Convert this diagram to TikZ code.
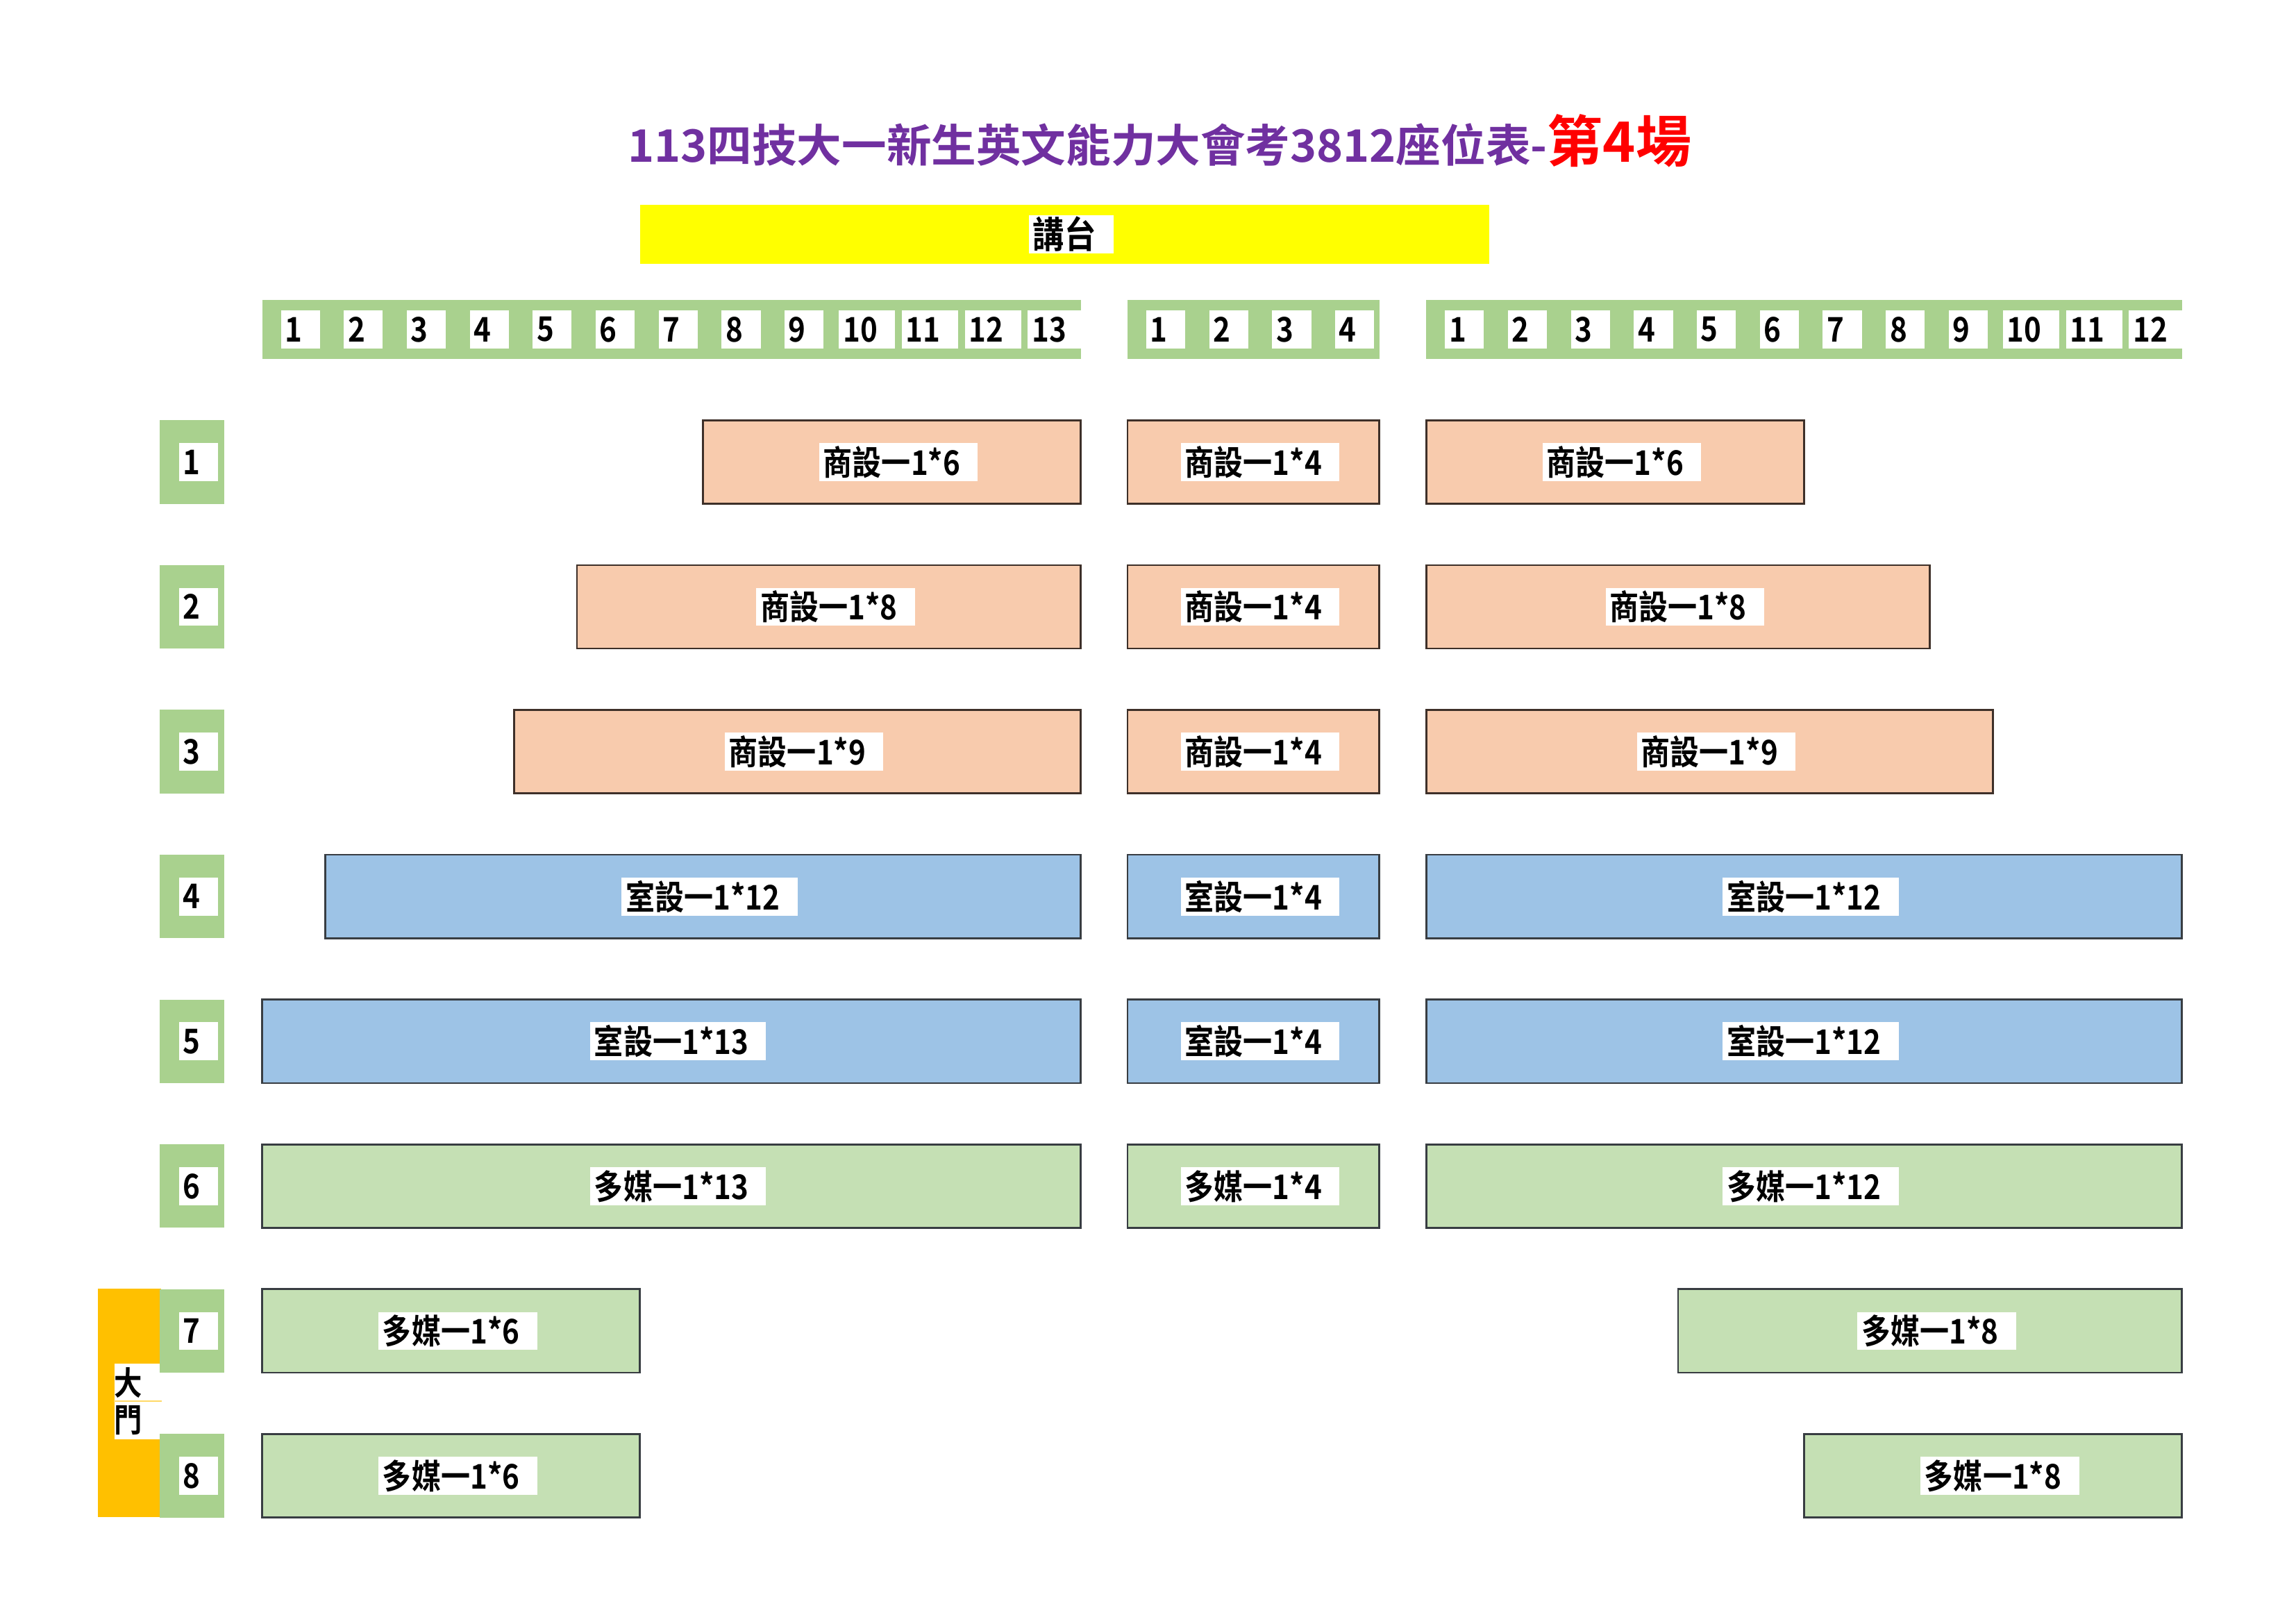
\documentclass[tikz,border=0pt]{standalone}
\usepackage{fontspec}
\setmainfont{Noto Sans CJK TC}[BoldFont=* Bold]
\newfontfamily\tagfont{Noto Sans CJK TC}[BoldFont=* Bold, FakeStretch=0.86]
\usetikzlibrary{positioning}
\definecolor{titlepurple}{HTML}{7030A0}
\definecolor{titlered}{HTML}{FF0000}
\definecolor{stageyellow}{HTML}{FFFF00}
\definecolor{hdrgreen}{HTML}{A9D18E}
\definecolor{seatpeach}{HTML}{F8CBAD}
\definecolor{seatblue}{HTML}{9DC3E6}
\definecolor{seatgreen}{HTML}{C5E0B4}
\definecolor{doororange}{HTML}{FFC000}
\definecolor{doorline}{HTML}{FFD966}
\definecolor{brdbrown}{HTML}{3E3029}
\definecolor{brdgray}{HTML}{383D42}
% white tag: box reaches further right than the text
\newcommand{\tg}[1]{#1\kern5pt}
\tikzset{
  blk/.style ={draw=#1, line width=0.7pt, inner sep=0pt, minimum height=57*0.018941cm},
  shang/.style={blk=brdbrown, fill=seatpeach},
  shi/.style  ={blk=brdgray, fill=seatblue},
  duo/.style  ={blk=brdgray, fill=seatgreen},
  tag/.style  ={fill=white, inner xsep=1.5pt, inner ysep=0pt, minimum height=14pt,
                xshift=2.5pt, font=\tagfont\bfseries\fontsize{12.5}{12.5}\selectfont},
  hdrbar/.style={fill=hdrgreen, inner sep=0pt, minimum height=40*0.018941cm},
  rowlbl/.style={fill=hdrgreen, inner sep=0pt, minimum width=44*0.018941cm,
                 minimum height=57*0.018941cm},
}

\begin{document}
\begin{tikzpicture}[x=0.018941cm, y=-0.018941cm]
  \useasboundingbox (0,0) rectangle (1568,1109);
  % title and stage
  \node (title) at (792,96) {\bfseries\fontsize{16.5}{18}\selectfont
    \textcolor{titlepurple}{113四技大一新生英文能力大會考3812座位表-}%
    \textcolor{titlered}{\fontsize{20.5}{22}\selectfont 第4場}};
  \node[fill=stageyellow, inner sep=0pt, minimum width=580*0.018941cm,
        minimum height=40*0.018941cm] (stage) at (727,160) {};
  \node[tag, font=\tagfont\bfseries\fontsize{13.5}{13.5}\selectfont] (stagelbl) at (stage) {\tg{講台}};
  % column headers
  \node[hdrbar, minimum width=559*0.018941cm] (hdrL) at (458.5,225) {};
  \node[hdrbar, minimum width=172*0.018941cm] (hdrM) at (856,225) {};
  \node[hdrbar, minimum width=516*0.018941cm] (hdrR) at (1232,225) {};
  \foreach \i in {1,...,13}
    \node[tag] (colL\i) at ({179+43*(\i-0.5)},225) {\tg{\i}};
  \foreach \i in {1,...,4}
    \node[tag] (colM\i) at ({770+43*(\i-0.5)},225) {\tg{\i}};
  \foreach \i in {1,...,12}
    \node[tag] (colR\i) at ({974+43*(\i-0.5)},225) {\tg{\i}};
  % door
  \node[fill=doororange, inner sep=0pt, minimum width=43*0.018941cm,
        minimum height=156*0.018941cm] (door) at (88.5,958) {};
  \node[fill=white, inner sep=0pt, text width=32*0.018941cm, minimum height=52*0.018941cm,
        align=left, font=\tagfont\bfseries\fontsize{12}{13.5}\selectfont] (doorlbl) at (94,957) {大\\門};
  \draw[doorline, line width=0.5pt] (doorlbl.west) -- (doorlbl.east);
  % row labels
  \foreach \r in {1,...,8} {
    \node[rowlbl] (row\r) at (131,{315.5+(\r-1)*98.9}) {};
    \node[tag] (rowno\r) at (row\r) {\tg{\r}};
  }
  % seat blocks: row/left/right/kind/text
  \foreach \r/\a/\b/\kind/\txt [count=\k] in {
      1/480/738/shang/商設一1*6, 1/770/942/shang/商設一1*4, 1/974/1232/shang/商設一1*6,
      2/394/738/shang/商設一1*8, 2/770/942/shang/商設一1*4, 2/974/1318/shang/商設一1*8,
      3/351/738/shang/商設一1*9, 3/770/942/shang/商設一1*4, 3/974/1361/shang/商設一1*9,
      4/222/738/shi/室設一1*12,  4/770/942/shi/室設一1*4,   4/974/1490/shi/室設一1*12,
      5/179/738/shi/室設一1*13,  5/770/942/shi/室設一1*4,   5/974/1490/shi/室設一1*12,
      6/179/738/duo/多媒一1*13,  6/770/942/duo/多媒一1*4,   6/974/1490/duo/多媒一1*12,
      7/179/437/duo/多媒一1*6,   7/1146/1490/duo/多媒一1*8,
      8/179/437/duo/多媒一1*6,   8/1232/1490/duo/多媒一1*8} {
    \node[\kind, minimum width={(\b-\a)*0.018941cm}] (seat\k)
      at ({(\a+\b)/2},{315.5+(\r-1)*98.9}) {};
    \node[tag] (seatlbl\k) at (seat\k) {\tg{\txt}};
  }
\end{tikzpicture}
\end{document}
